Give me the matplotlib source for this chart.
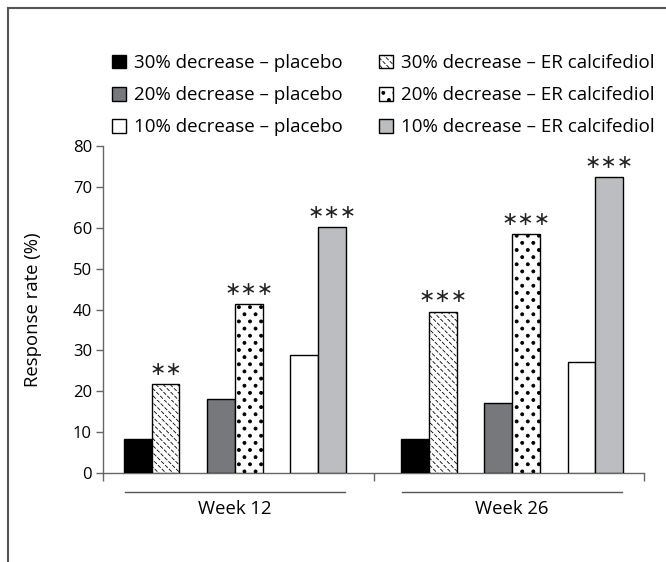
import numpy as np
import matplotlib
matplotlib.use("Agg")
import matplotlib.pyplot as plt
import matplotlib.hatch as mhatch
import matplotlib.transforms as mtransforms
from matplotlib.path import Path
from matplotlib.lines import Line2D

# ---------------- data ----------------
weeks = ["Week 12", "Week 26"]
levels = ["30%", "20%", "10%"]
placebo_30 = [8.3, 8.3]
placebo_20 = [18.2, 17.2]
placebo_10 = [28.8, 27.2]
er_30 = [21.7, 39.5]
er_20 = [41.3, 58.4]
er_10 = [60.1, 72.4]
stars_30 = ["**", "***"]
stars_20 = ["***", "***"]
stars_10 = ["***", "***"]
placebo_labels = ["30% decrease \u2013 placebo", "20% decrease \u2013 placebo",
                  "10% decrease \u2013 placebo"]
er_labels = ["30% decrease \u2013 ER calcifediol", "20% decrease \u2013 ER calcifediol",
             "10% decrease \u2013 ER calcifediol"]
yticks = [0, 10, 20, 30, 40, 50, 60, 70, 80]
ylabel = "Response rate (%)"


# ---------------- custom hatches ----------------
class DotHatch(mhatch.HatchPatternBase):
    """Staggered filled dots (replaces 'O')."""
    def __init__(self, hatch, density):
        n = hatch.count("O")
        circ = Path.unit_circle()
        self.shape_vertices = circ.vertices
        self.shape_codes = circ.codes
        if n == 0:
            self.num_vertices = 0
            return
        cols, rows = 9 * n, 14 * n
        centers = []
        for r in range(rows + 1):
            yy = r / rows
            if r % 2 == 0:
                xs = np.arange(cols + 1) / cols
            else:
                xs = (np.arange(cols) + 0.5) / cols
            centers += [(xx, yy) for xx in xs]
        self.centers = np.array(centers)
        self.num_vertices = len(self.centers) * len(self.shape_vertices)

    def set_vertices_and_codes(self, vertices, codes):
        radius = 0.015
        nv = len(self.shape_vertices)
        for i, (cx, cy) in enumerate(self.centers):
            vertices[i * nv:(i + 1) * nv] = self.shape_vertices * radius + (cx, cy)
            codes[i * nv:(i + 1) * nv] = self.shape_codes


class DashHatch(mhatch.HatchPatternBase):
    """Dashed back-diagonal lines (replaces '\\')."""
    def __init__(self, hatch, density):
        n = hatch.count("\\")
        if n == 0:
            self.num_vertices = 0
            return
        self.nlines = 14 * n
        self.ndash = 26
        self.num_vertices = (2 * self.nlines + 1) * self.ndash * 2

    def set_vertices_and_codes(self, vertices, codes):
        x0s = np.arange(-self.nlines, self.nlines + 1) / self.nlines
        t0 = np.arange(self.ndash) / self.ndash
        t1 = t0 + 0.55 / self.ndash
        i = 0
        for x0 in x0s:
            for a, b in zip(t0, t1):
                vertices[i] = (x0 + a, 1 - a)
                vertices[i + 1] = (x0 + b, 1 - b)
                codes[i] = Path.MOVETO
                codes[i + 1] = Path.LINETO
                i += 2


mhatch._hatch_types = [h for h in mhatch._hatch_types
                       if h not in (mhatch.LargeCircles, mhatch.SouthEastHatch)]
mhatch._hatch_types += [DotHatch, DashHatch]

plt.rcParams["font.family"] = ["Open Sans", "DejaVu Sans"]
plt.rcParams["hatch.linewidth"] = 0.6
plt.rcParams["hatch.color"] = "black"

W, H = 666, 562
fig = plt.figure(figsize=(W / 100, H / 100), dpi=100)
ax = fig.add_axes([103 / W, 1 - 473 / H, 541 / W, 327 / H])

x = np.arange(len(weeks))
bw = 0.1
pair_off = 0.30

series = [
    (placebo_30, er_30, stars_30, "#000000", "\\"),
    (placebo_20, er_20, stars_20, "#77787b", "O"),
    (placebo_10, er_10, stars_10, "#ffffff", None),
]
er_colors = ["#ffffff", "#ffffff", "#bcbdc0"]
plac_handles, er_handles = [], []
for k, (pv, ev, st, pc, hatch) in enumerate(series):
    cx = x + (k - 1) * pair_off
    bp = ax.bar(cx - bw / 2, pv, bw, color=pc, edgecolor="black", linewidth=1.0, zorder=3)
    be = ax.bar(cx + bw / 2, ev, bw, color=er_colors[k], edgecolor="black",
                linewidth=1.0, hatch=hatch, zorder=3)
    plac_handles.append(bp)
    er_handles.append(be)
    for xi, v, s in zip(cx + bw / 2, ev, st):
        ax.annotate("\u2217" * len(s), xy=(xi, v), xytext=(0, 4), textcoords="offset points",
                    ha="center", va="bottom", fontsize=14, family="DejaVu Sans", color="#222222")

ax.set_xlim(-0.475, 1.475)
ax.set_ylim(0, 80)
ax.set_yticks(yticks)
ax.set_xticks([-0.475, 0.5, 1.475])
ax.set_xticklabels([])
for sp in ["top", "right"]:
    ax.spines[sp].set_visible(False)
for sp in ["left", "bottom"]:
    ax.spines[sp].set_color("#666666")
    ax.spines[sp].set_linewidth(1.0)
ax.tick_params(axis="y", direction="out", length=5, width=1.0, color="#666666",
               labelsize=12, pad=3)
ax.tick_params(axis="x", direction="out", length=6, width=1.0, color="#666666")

tr = mtransforms.blended_transform_factory(ax.transData, ax.transAxes)
for xi, w in zip(x, weeks):
    ax.add_line(Line2D([xi - 0.397, xi + 0.397], [-0.058, -0.058], transform=tr,
                       color="#555555", linewidth=1.0, clip_on=False))
    ax.text(xi, -0.11, w, transform=tr, ha="center", va="center", fontsize=13.3)

fig.text(33 / W, 1 - 310 / H, ylabel, rotation=90, ha="center", va="center", fontsize=13.3)

leg_kw = dict(frameon=False, loc="upper left", fontsize=13.5, borderpad=0,
              borderaxespad=0, handlelength=0.75, handleheight=0.75,
              handletextpad=0.4, labelspacing=0.76)
leg1 = fig.legend(plac_handles, placebo_labels, bbox_to_anchor=(112 / W, 1 - 54 / H), **leg_kw)
leg2 = fig.legend(er_handles, er_labels, bbox_to_anchor=(379 / W, 1 - 54 / H), **leg_kw)

# outer frame (top and left)
fig.add_artist(Line2D([8 / W, 1], [1 - 8 / H, 1 - 8 / H], transform=fig.transFigure,
                      color="#555555", linewidth=1.5))
fig.add_artist(Line2D([8 / W, 8 / W], [0, 1 - 8 / H], transform=fig.transFigure,
                      color="#555555", linewidth=1.5))

fig.savefig("out.png", dpi=100)
